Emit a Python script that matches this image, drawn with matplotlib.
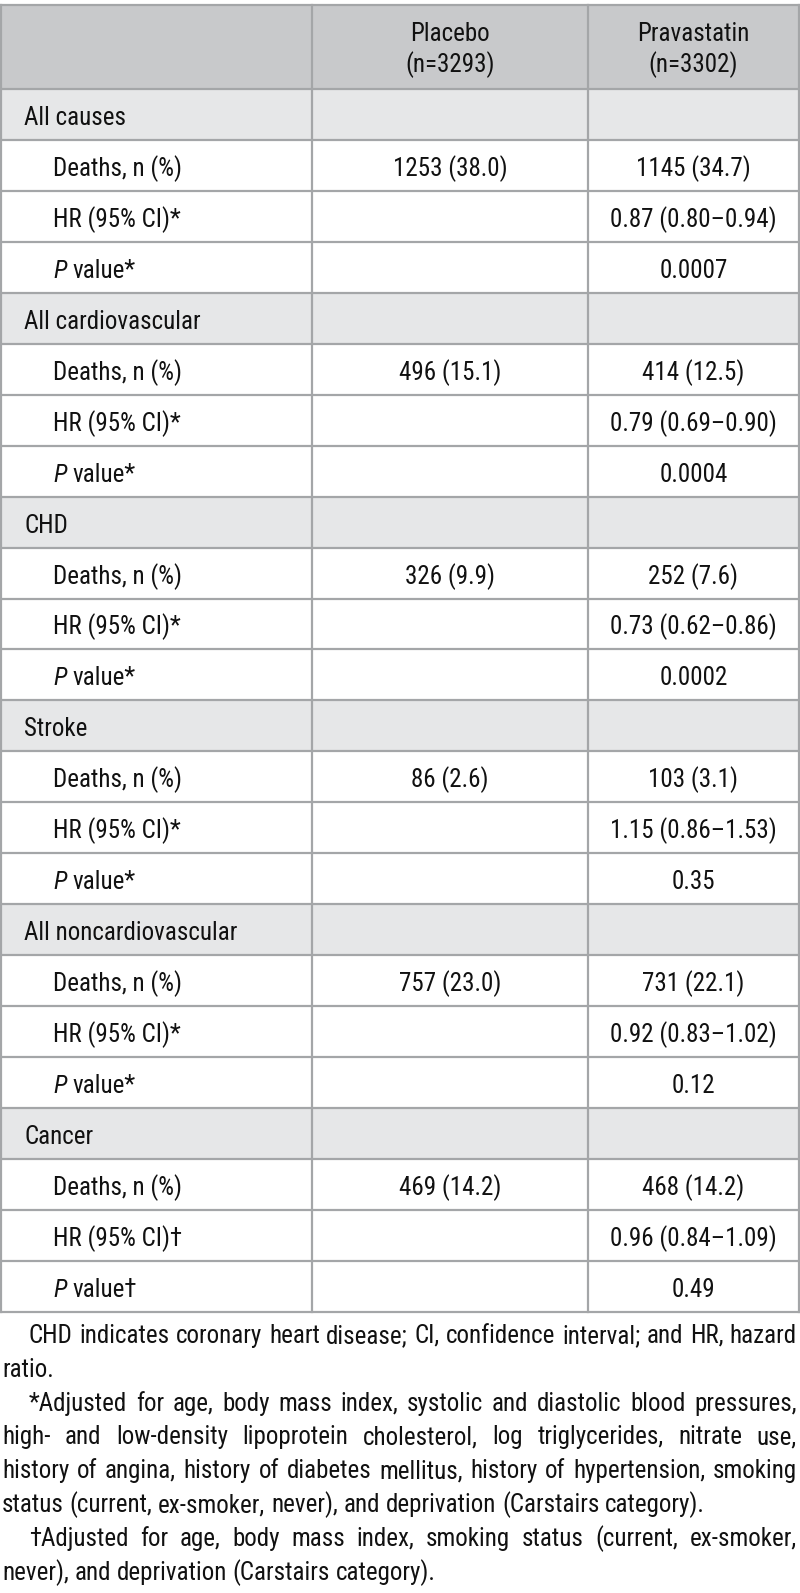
import matplotlib
matplotlib.use("Agg")
import matplotlib.pyplot as plt
from matplotlib import font_manager
from matplotlib.patches import Rectangle

# ---- data ----
col_headers = ["Placebo\n(n=3293)", "Pravastatin\n(n=3302)"]
sections = ["All causes", "All cardiovascular", "CHD", "Stroke",
            "All noncardiovascular", "Cancer"]
placebo_deaths = ["1253 (38.0)", "496 (15.1)", "326 (9.9)", "86 (2.6)",
                  "757 (23.0)", "469 (14.2)"]
prava_deaths = ["1145 (34.7)", "414 (12.5)", "252 (7.6)", "103 (3.1)",
                "731 (22.1)", "468 (14.2)"]
prava_hr = ["0.87 (0.80–0.94)", "0.79 (0.69–0.90)", "0.73 (0.62–0.86)",
            "1.15 (0.86–1.53)", "0.92 (0.83–1.02)", "0.96 (0.84–1.09)"]
p_values = ["0.0007", "0.0004", "0.0002", "0.35", "0.12", "0.49"]
marks = ["*", "*", "*", "*", "*", "†"]

# footnote lines as broken in the original: (text, indented, justified)
footnotes = [
    ("CHD indicates coronary heart disease; CI, confidence interval; and HR, hazard", True, True),
    ("ratio.", False, False),
    ("*Adjusted for age, body mass index, systolic and diastolic blood pressures,", True, True),
    ("high- and low-density lipoprotein cholesterol, log triglycerides, nitrate use,", False, True),
    ("history of angina, history of diabetes mellitus, history of hypertension, smoking", False, True),
    ("status (current, ex-smoker, never), and deprivation (Carstairs category).", False, False),
    ("†Adjusted for age, body mass index, smoking status (current, ex-smoker,", True, True),
    ("never), and deprivation (Carstairs category).", False, False),
]

# ---- font: prefer a condensed face like the original ----
entries = font_manager.fontManager.ttflist
names = {f.name for f in entries}
STRETCH = "normal"
FONT = None
for cand in ["Liberation Sans Narrow", "Roboto Condensed", "Open Sans Condensed",
             "Noto Sans Condensed", "DejaVu Sans Condensed"]:
    if cand in names:
        FONT = cand
        break
if FONT is None:
    cond = [f for f in entries if str(f.stretch) in ("condensed", "semi-condensed", "extra-condensed")
            and f.style == "normal"]
    for pref in ["Liberation Sans", "Roboto", "Noto Sans", "Open Sans", "DejaVu Sans"]:
        if any(f.name == pref for f in cond):
            FONT = pref
            STRETCH = "condensed"
            break
if FONT is None:
    FONT = "Roboto" if "Roboto" in names else "Liberation Sans"
plt.rcParams["font.family"] = [FONT, "DejaVu Sans"]
plt.rcParams["font.stretch"] = STRETCH
plt.rcParams["font.weight"] = "normal"

FS = 18
TXT = "#111111"
GRID = "#a4a6a8"
HEAD_BG = "#c8c9cb"
SEC_BG = "#e6e7e8"

W, H = 800, 1593
fig = plt.figure(figsize=(W / 100, H / 100), dpi=100)
ax = fig.add_axes([0, 0, 1, 1])
ax.set_xlim(0, W)
ax.set_ylim(H, 0)
ax.axis("off")
renderer = fig.canvas.get_renderer()


def width_of(s, fs, **kw):
    t = ax.text(0, 0, s, fontsize=fs, **kw)
    w = t.get_window_extent(renderer).width
    t.remove()
    return w


# table geometry (pixels)
x_left, x_c1, x_c2, x_right = 1, 312, 588, 799
y_top, y_head = 5, 89
row_h = 50.95

rows = []
for i, sec in enumerate(sections):
    rows.append(("section", sec, "", ""))
    rows.append(("deaths", "Deaths, n (%)", placebo_deaths[i], prava_deaths[i]))
    rows.append(("hr", "HR (95% CI)" + marks[i], "", prava_hr[i]))
    rows.append(("p", "value" + marks[i], "", p_values[i]))
y_bottom = y_head + row_h * len(rows)

# backgrounds
ax.add_patch(Rectangle((x_left, y_top), x_right - x_left, y_head - y_top,
                       facecolor=HEAD_BG, edgecolor="none"))
for r, row in enumerate(rows):
    if row[0] == "section":
        ax.add_patch(Rectangle((x_left, y_head + r * row_h), x_right - x_left, row_h,
                               facecolor=SEC_BG, edgecolor="none"))

# grid
for y in [y_top, y_head] + [y_head + (r + 1) * row_h for r in range(len(rows))]:
    ax.plot([x_left, x_right], [y, y], color=GRID, lw=1.6, solid_capstyle="projecting")
for x in [x_left, x_c1, x_c2, x_right]:
    ax.plot([x, x], [y_top, y_bottom], color=GRID, lw=1.6, solid_capstyle="projecting")

# header
mid1 = (x_c1 + x_c2) / 2
mid2 = (x_c2 + x_right) / 2
for xm, hdr in zip([mid1, mid2], col_headers):
    l1, l2 = hdr.split("\n")
    ax.text(xm, 41, l1, ha="center", va="baseline", fontsize=FS, color=TXT)
    ax.text(xm, 72, l2, ha="center", va="baseline", fontsize=FS, color=TXT)

# body
wp = width_of("P", FS, style="italic")
for r, (kind, label, v1, v2) in enumerate(rows):
    yb = y_head + r * row_h + 36
    if kind == "section":
        ax.text(24, yb, label, ha="left", va="baseline", fontsize=FS, color=TXT)
    elif kind == "p":
        ax.text(53, yb, "P", ha="left", va="baseline", fontsize=FS,
                color=TXT, style="italic")
        ax.text(53 + wp + 6, yb, label, ha="left", va="baseline", fontsize=FS, color=TXT)
    else:
        ax.text(53, yb, label, ha="left", va="baseline", fontsize=FS, color=TXT)
    if v1:
        ax.text(mid1, yb, v1, ha="center", va="baseline", fontsize=FS, color=TXT)
    if v2:
        ax.text(mid2, yb, v2, ha="center", va="baseline", fontsize=FS, color=TXT)

# footnotes, justified word by word; shrink the size if the face is too wide
x_txt0, x_txt1, indent = 2, 797, 27
fs_note = FS
for _ in range(3):
    worst = 1.0
    sp = width_of("a a", fs_note) - 2 * width_of("a", fs_note)
    for line, ind, _j in footnotes:
        x0 = x_txt0 + (indent if ind else 0)
        words = line.split(" ")
        natural = sum(width_of(w, fs_note) for w in words) + sp * 1.05 * (len(words) - 1)
        worst = min(worst, (x_txt1 - x0) / natural)
    if worst >= 1.0:
        break
    fs_note *= worst * 0.995

sp = width_of("a a", fs_note) - 2 * width_of("a", fs_note)
for k, (line, ind, justify) in enumerate(footnotes):
    yb = 1343 + 33.8 * k
    x0 = x_txt0 + (indent if ind else 0)
    words = line.split(" ")
    objs = [ax.text(0, yb, w, ha="left", va="baseline", fontsize=fs_note, color=TXT)
            for w in words]
    widths = [o.get_window_extent(renderer).width for o in objs]
    gap = (x_txt1 - x0 - sum(widths)) / (len(words) - 1) if justify else sp
    x = x0
    for o, w in zip(objs, widths):
        o.set_x(x)
        x += w + gap

fig.savefig("out.png", dpi=100)
